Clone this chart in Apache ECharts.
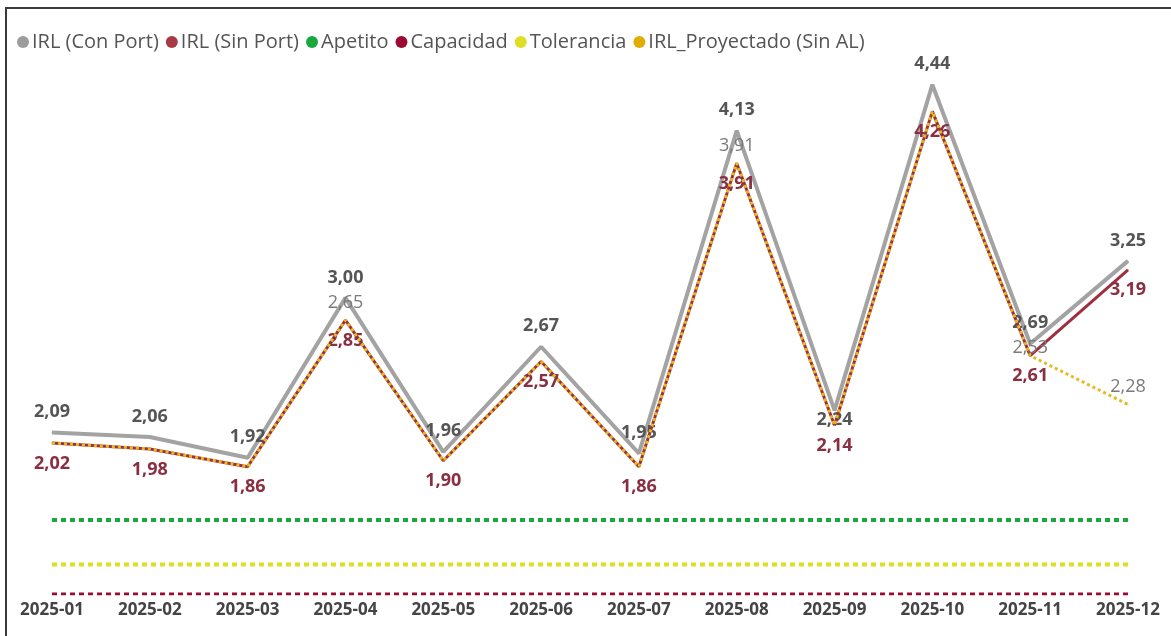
<!DOCTYPE html>
<html>
<head>
<meta charset="utf-8">
<script src="https://cdn.jsdelivr.net/npm/echarts@6/dist/echarts.min.js"></script>
<style>
  html, body { margin: 0; padding: 0; background: #fff; }
  #chart { width: 1171px; height: 636px; }
  #frame { position: absolute; left: 5px; top: 7px; width: 1166px; height: 629px;
           border-top: 2px solid #3a3a3a; border-left: 2px solid #3a3a3a; pointer-events: none; }
</style>
</head>
<body>
<div id="chart"></div>
<div id="frame"></div>
<script>
// datos
var meses = ['2025-01','2025-02','2025-03','2025-04','2025-05','2025-06','2025-07','2025-08','2025-09','2025-10','2025-11','2025-12'];
var irlConPort = [2.09, 2.06, 1.92, 3.00, 1.96, 2.67, 1.95, 4.13, 2.24, 4.44, 2.69, 3.25];
var irlSinPort = [2.02, 1.98, 1.86, 2.85, 1.90, 2.57, 1.86, 3.91, 2.14, 4.26, 2.61, 3.19];
var irlProyectado = [2.02, 1.98, 1.86, 2.85, 1.90, 2.57, 1.86, 3.91, 2.14, 4.26, 2.61, 2.28];
var etiquetasProyectado = ['', '', '', '2,65', '', '', '', '3,91', '', '', '2,53', '2,28'];
var apetito = [1.5, 1.5, 1.5, 1.5, 1.5, 1.5, 1.5, 1.5, 1.5, 1.5, 1.5, 1.5];
var tolerancia = [1.2, 1.2, 1.2, 1.2, 1.2, 1.2, 1.2, 1.2, 1.2, 1.2, 1.2, 1.2];
var capacidad = [1.0, 1.0, 1.0, 1.0, 1.0, 1.0, 1.0, 1.0, 1.0, 1.0, 1.0, 1.0];

var fuente = '"Open Sans", "Noto Sans", sans-serif';

function coma(v) {
    return v.toFixed(2).replace('.', ',');
}

// la etiqueta de sep. del gris se ve por debajo del pico
var conPortData = irlConPort.map(function (v, i) {
    if (i === 8) return { value: v, label: { offset: [0, 30] } };
    return v;
});

var proyData = irlProyectado.map(function (v, i) {
    var item = { value: v, label: { show: etiquetasProyectado[i] !== '' } };
    if (i === 10) item.label.offset = [0, 10];
    return item;
});

function lineaRef(nombre, datos, color, ancho) {
    return {
        name: nombre,
        type: 'line',
        data: datos,
        symbol: 'none',
        color: color,
        silent: true,
        lineStyle: { color: color, width: ancho, type: [5, 4] },
        z: 1
    };
}

var chart = echarts.init(document.getElementById('chart'));
var option = {
    animation: false,
    textStyle: { fontFamily: fuente },
    legend: {
        left: 12,
        top: 27,
        itemWidth: 12,
        itemHeight: 12,
        itemGap: 7,
        icon: 'circle',
        textStyle: { fontSize: 20, color: '#555', fontFamily: fuente, padding: [0, 0, 0, -2] },
        data: ['IRL (Con Port)', 'IRL (Sin Port)', 'Apetito', 'Capacidad', 'Tolerancia', 'IRL_Proyectado (Sin AL)']
    },
    grid: { left: 52, right: 43, top: 61, bottom: 42, containLabel: false },
    xAxis: {
        type: 'category',
        data: meses,
        boundaryGap: false,
        axisLine: { show: false },
        axisTick: { show: false },
        axisLabel: { fontSize: 17, fontWeight: 'bold', color: '#444', margin: 8, fontFamily: fuente, interval: 0 }
    },
    yAxis: {
        type: 'value',
        min: 1,
        max: 4.6,
        show: false,
        splitLine: { show: false }
    },
    series: [
        {
            name: 'IRL (Con Port)',
            type: 'line',
            data: conPortData,
            color: '#9c9c9c',
            symbol: 'circle',
            symbolSize: 1,
            lineStyle: { color: '#a3a3a3', width: 4 },
            label: {
                show: true, position: 'top', distance: 11,
                fontSize: 18, fontWeight: 'bold', color: '#555',
                formatter: function (p) { return coma(p.value); }
            },
            z: 2
        },
        {
            name: 'IRL (Sin Port)',
            type: 'line',
            data: irlSinPort,
            color: '#a83a46',
            symbol: 'circle',
            symbolSize: 1,
            lineStyle: { color: '#9e2f3d', width: 3 },
            label: {
                show: true, position: 'bottom', distance: 11,
                fontSize: 18, fontWeight: 'bold', color: '#8a2e42',
                formatter: function (p) { return coma(p.value); }
            },
            z: 3
        },
        lineaRef('Apetito', apetito, '#1aa83e', 4),
        lineaRef('Capacidad', capacidad, '#9b0a32', 3),
        lineaRef('Tolerancia', tolerancia, '#dede24', 4),
        {
            name: 'IRL_Proyectado (Sin AL)',
            type: 'line',
            data: proyData,
            color: '#dfae00',
            symbol: 'circle',
            symbolSize: 1,
            lineStyle: { color: '#e8b820', width: 3, type: [3, 3] },
            label: {
                position: 'top', distance: 8,
                fontSize: 18, color: '#7a7a7a',
                formatter: function (p) { return etiquetasProyectado[p.dataIndex]; }
            },
            z: 4
        }
    ]
};
chart.setOption(option);
</script>
</body>
</html>
